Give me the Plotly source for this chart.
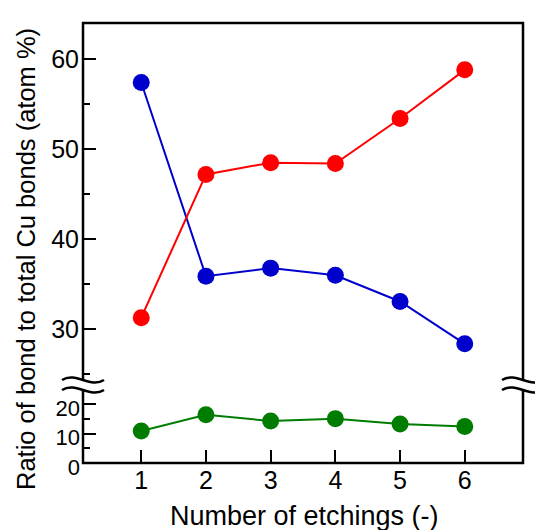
import plotly.graph_objects as go

# ---- data ----
etchings = [1, 2, 3, 4, 5, 6]
blue_vals = [57.4, 35.9, 36.8, 36.0, 33.1, 28.4]
red_vals = [31.3, 47.2, 48.5, 48.4, 53.4, 58.8]
green_vals = [10.9, 16.4, 14.3, 15.1, 13.3, 12.4]
upper_ticks = [30, 40, 50, 60]
upper_minor = [25, 35, 45, 55]
lower_ticks = [0, 10, 20]
lower_minor = [5, 15]

W, H = 535, 530
L, R, T, B = 83, 12, 23, 67
PW = W - L - R
PH = H - T - B
BREAK_Y = 385  # pixel


def px(x):
    return (x - L) / PW


def py(y):
    return (H - B - y) / PH


brk = py(BREAK_Y)
FONT = "Liberation Sans, Arial, sans-serif"

fig = go.Figure()
mk = dict(size=17)
fig.add_trace(go.Scatter(x=etchings, y=blue_vals, mode="lines+markers",
                         line=dict(color="#0000CC", width=2), marker=dict(color="#0000CC", **mk),
                         xaxis="x", yaxis="y"))
fig.add_trace(go.Scatter(x=etchings, y=red_vals, mode="lines+markers",
                         line=dict(color="#FF0000", width=2), marker=dict(color="#FF0000", **mk),
                         xaxis="x", yaxis="y"))
fig.add_trace(go.Scatter(x=etchings, y=green_vals, mode="lines+markers",
                         line=dict(color="#007D00", width=2), marker=dict(color="#007D00", **mk),
                         xaxis="x", yaxis="y2"))

ax_common = dict(showgrid=False, zeroline=False, showline=False, ticks="inside",
                 ticklen=13, tickwidth=2, tickcolor="black")

fig.update_layout(
    width=W, height=H,
    margin=dict(l=L, r=R, t=T, b=B),
    plot_bgcolor="white", paper_bgcolor="white",
    showlegend=False,
    xaxis=dict(range=[0.1, 6.9], tickvals=etchings, anchor="y2",
               tickfont=dict(family=FONT, size=25, color="black"), **ax_common),
    yaxis=dict(domain=[brk, 1], range=[30 - (BREAK_Y - 329.3) / 9.03, 64.0],
               tickvals=upper_ticks, ticklabelstandoff=3,
               minor=dict(tickvals=upper_minor, ticks="inside", ticklen=7, tickwidth=2, tickcolor="black"),
               anchor="x", tickfont=dict(family=FONT, size=25, color="black"), **ax_common),
    yaxis2=dict(domain=[0, brk], range=[0, (463.3 - BREAK_Y) / 2.95],
                tickvals=lower_ticks, ticklabelstandoff=2, ticklabelshift=4,
                minor=dict(tickvals=lower_minor, ticks="inside", ticklen=7, tickwidth=2, tickcolor="black"),
                anchor="x", tickfont=dict(family=FONT, size=22, color="black"), **ax_common),
)

shapes = [dict(type="rect", xref="paper", yref="paper", x0=0, y0=0, x1=1, y1=1,
               line=dict(color="black", width=2.5), fillcolor="rgba(0,0,0,0)")]


def wave(cx, cy, w, a):
    x0, x1 = cx - w / 2, cx + w / 2
    return (f"M {px(x0)},{py(cy)} C {px(x0 + w / 3)},{py(cy - 2 * a)} "
            f"{px(x0 + 2 * w / 3)},{py(cy + 2 * a)} {px(x1)},{py(cy)}")


for cx in (L, W - R):
    w, a, gap = 42, 4.5, 10
    top, bot = BREAK_Y - gap / 2, BREAK_Y + gap / 2
    x0, x1 = cx - w / 2, cx + w / 2
    fillpath = (f"M {px(x0)},{py(top)} C {px(x0 + w / 3)},{py(top - 2 * a)} "
                f"{px(x0 + 2 * w / 3)},{py(top + 2 * a)} {px(x1)},{py(top)} "
                f"L {px(x1)},{py(bot)} C {px(x0 + 2 * w / 3)},{py(bot + 2 * a)} "
                f"{px(x0 + w / 3)},{py(bot - 2 * a)} {px(x0)},{py(bot)} Z")
    shapes.append(dict(type="path", xref="paper", yref="paper", path=fillpath,
                       fillcolor="white", line=dict(width=0)))
    shapes.append(dict(type="path", xref="paper", yref="paper", path=wave(cx, top, w, a),
                       line=dict(color="black", width=2.5)))
    shapes.append(dict(type="path", xref="paper", yref="paper", path=wave(cx, bot, w, a),
                       line=dict(color="black", width=2.5)))

fig.update_layout(shapes=shapes)

fig.add_annotation(text="Number of etchings (-)", xref="paper", yref="paper",
                   x=px(304), y=py(516), showarrow=False, xanchor="center", yanchor="middle",
                   font=dict(family=FONT, size=27, color="black"))
fig.add_annotation(text="Ratio of bond to total Cu bonds (atom %)", xref="paper", yref="paper",
                   x=px(26), y=py(259), showarrow=False, xanchor="center", yanchor="middle",
                   textangle=-90, font=dict(family=FONT, size=25.5, color="black"))

fig.write_html("out.html")
